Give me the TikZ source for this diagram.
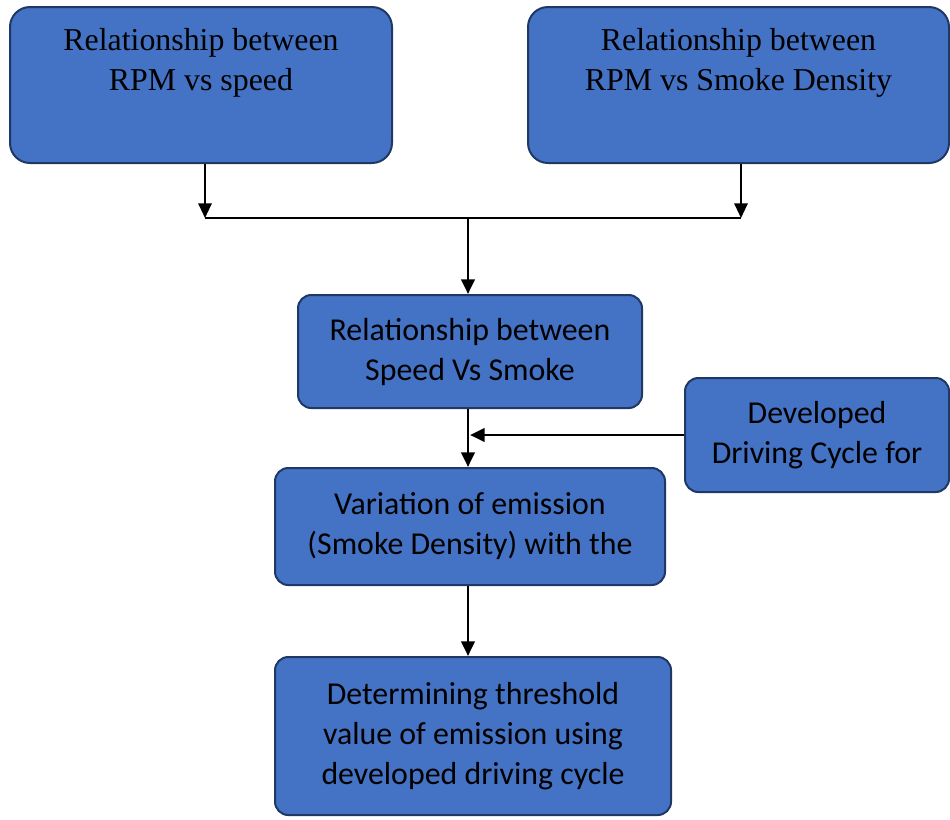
\documentclass[tikz,border=0pt]{standalone}
\usepackage{fontspec}
\setmainfont{Carlito}
\newfontfamily\timesbox{Liberation Serif}
\usetikzlibrary{positioning, arrows.meta}
\definecolor{boxblue}{RGB}{68,114,196}
\definecolor{boxline}{RGB}{32,56,100}

\begin{document}
\begin{tikzpicture}[
  x=0.75pt, y=-0.75pt,
  every node/.style={
    inner sep=0pt,
    align=center,
    font=\fontsize{23.9pt}{30pt}\selectfont,
  },
  stepbox/.style={
    draw=boxline,
    fill=boxblue,
    line width=1.5pt,
    rounded corners=10pt,
  },
  topbox/.style={
    stepbox,
    rounded corners=15pt,
    font=\timesbox\fontsize{23.9pt}{30pt}\selectfont,
  },
  flow/.style={
    line width=2.2pt,
    -{Triangle[length=11pt,width=10pt]},
  },
  feed/.style={
    line width=1.5pt,
    -{Triangle[length=11pt,width=10pt]},
  }
]

\useasboundingbox (0,0) rectangle (950,819);

\node[topbox, minimum width=286.5pt, minimum height=117pt] (rpmspeed) at (201,85)
  {Relationship between\\RPM vs speed\\\strut};
\node[topbox, minimum width=315.75pt, minimum height=117pt] (rpmsmoke) at (738.5,85)
  {Relationship between\\RPM vs Smoke Density\\\strut};

\node[stepbox, minimum width=258pt, minimum height=84.75pt] (speedsmoke) at (470,351.5)
  {Relationship between\\Speed Vs Smoke};
\node[stepbox, minimum width=198pt, minimum height=85.5pt] (cycle) at (817,435)
  {Developed\\Driving Cycle for};
\node[stepbox, minimum width=292.5pt, minimum height=87.75pt] (variation) at (470,526.5)
  {Variation of emission\\(Smoke Density) with the};
\node[stepbox, minimum width=297pt, minimum height=118.5pt] (threshold) at (473,736)
  {Determining threshold\\value of emission using\\developed driving cycle};

\coordinate (joinl) at (205,218);
\coordinate (joinr) at (741,218);
\coordinate (joinm) at (468,218);

\draw[feed] (rpmspeed.south -| joinl) -- (joinl);
\draw[feed] (rpmsmoke.south -| joinr) -- (joinr);
\draw[line width=1.5pt] (joinl) -- (joinr);
\draw[flow] (joinm) -- (speedsmoke.north -| joinm);
\draw[flow] (speedsmoke.south -| joinm) -- (variation.north -| joinm);
\draw[flow] (cycle.west) -- ([xshift=1.5pt]cycle.west -| joinm);
\draw[flow] (variation.south -| joinm) -- (threshold.north -| joinm);

\end{tikzpicture}
\end{document}
